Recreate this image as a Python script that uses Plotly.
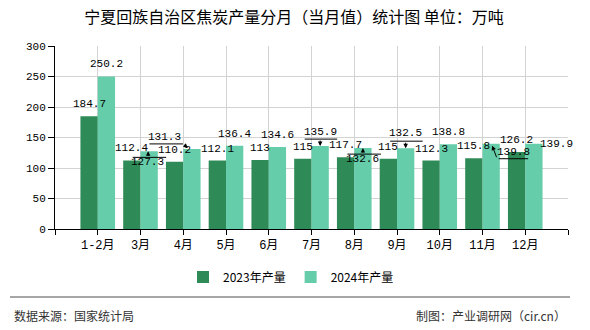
import plotly.graph_objects as go

categories = ["1-2月", "3月", "4月", "5月", "6月", "7月", "8月", "9月", "10月", "11月", "12月"]
y2023 = [184.7, 112.4, 110.2, 112.1, 113, 115, 117.7, 115, 112.3, 115.8, 126.2]
y2024 = [250.2, 127.3, 131.3, 136.4, 134.6, 135.9, 132.6, 132.5, 138.8, 139.8, 139.9]
names = ["2023年产量", "2024年产量"]
colors = ["#2e8b57", "#66cdaa"]

xpos = list(range(1, len(categories) + 1))
BARGAP = 0.19
OFF = (1 - BARGAP) / 4  # half bar width offset from category centre

LABEL_FONT = dict(family="Liberation Mono, Noto Sans CJK SC", size=11, color="#000000")
CJK = "Noto Sans CJK SC"

# plot area in pixels
L, R, T, B = 55, 22, 46, 101
PW, PH = 590 - L - R, 330 - T - B

def px_x(p):
    return (p - L) / PW

def px_y(p):
    return (330 - B - p) / PH

fig = go.Figure()
for name, vals, col in zip(names, [y2023, y2024], colors):
    fig.add_trace(go.Bar(x=xpos, y=vals, name=name, marker=dict(color=col, line=dict(width=0))))

# label placement (pixel offsets of label centre from bar top, screen coords)
special = {
    1: dict(label=(-2, 11), line=((-18, 6), (17, 6)), arrow=((-1, 6), (-1, 0))),
    2: dict(label=(-27, -12), line=((-44, -5), (-9, -5)), arrow=((-9, -5), (-4, -1))),
    5: dict(label=(0, -14), line=((-17, -7), (17, -7)), arrow=((0, -7), (0, 0))),
    6: dict(label=(0, 11), line=((-17, 6), (18, 6)), arrow=((0, 6), (0, 0))),
    7: dict(label=(0, -15), line=((-17, -7), (17, -7)), arrow=((0, -7), (0, 0))),
    9: dict(label=(22, 8), line=((6, 15), (37, 15)), arrow=((6, 15), (1, 2))),
    10: dict(label=(23, 0)),
}

annotations = []

def seg(x, y, p1, p2, head):
    annotations.append(dict(
        x=x, y=y, xref="x", yref="y", text="", showarrow=True,
        xshift=p2[0], yshift=-p2[1], ax=p1[0] - p2[0], ay=p1[1] - p2[1],
        axref="pixel", ayref="pixel",
        arrowhead=2 if head else 0, arrowsize=0.9, arrowwidth=1,
        arrowcolor="#000000", standoff=0, startstandoff=0,
    ))

for si, vals in enumerate([y2023, y2024]):
    sign = -1 if si == 0 else 1
    for i, v in enumerate(vals):
        bx = xpos[i] + sign * OFF
        spec = special.get(i) if si == 1 else None
        dx, dy = (0, -12)
        if spec:
            dx, dy = spec["label"]
        annotations.append(dict(
            x=bx, y=v, xref="x", yref="y", text=f"{v:g}", showarrow=False,
            xshift=dx, yshift=-dy, xanchor="center", yanchor="middle",
            font=LABEL_FONT,
        ))
        if spec and "line" in spec:
            seg(bx, v, spec["line"][0], spec["line"][1], False)
            seg(bx, v, spec["arrow"][0], spec["arrow"][1], True)

# footer
annotations.append(dict(x=px_x(12), y=px_y(315), xref="paper", yref="paper", text="数据来源：国家统计局",
                        showarrow=False, xanchor="left", yanchor="middle",
                        font=dict(family=CJK, size=12, color="#333333")))
annotations.append(dict(x=px_x(568), y=px_y(315), xref="paper", yref="paper", text="制图：产业调研网（cir.cn）",
                        showarrow=False, xanchor="right", yanchor="middle",
                        font=dict(family=CJK, size=12, color="#333333")))

shapes = [dict(type="line", xref="paper", yref="paper", x0=px_x(10), x1=px_x(570),
               y0=px_y(297), y1=px_y(297), line=dict(color="#888888", width=1.5))]

fig.update_layout(
    width=590, height=330,
    margin=dict(l=L, r=R, t=T, b=B, autoexpand=False),
    paper_bgcolor="#ffffff", plot_bgcolor="#ffffff",
    barmode="group", bargap=BARGAP, bargroupgap=0,
    title=dict(text="宁夏回族自治区焦炭产量分月（当月值）统计图 单位：万吨",
               x=294 / 590, xanchor="center", y=1 - 17 / 330, yanchor="middle",
               xref="container", yref="container",
               font=dict(family=CJK, size=16, color="#000000")),
    xaxis=dict(range=[0, 12], tickmode="array", tickvals=list(range(0, 13)),
               ticktext=[""] + categories + [""], tickangle=0,
               showgrid=True, gridcolor="#d3d3d3", gridwidth=1,
               showline=True, linecolor="#000000", linewidth=1,
               ticks="outside", ticklen=5, tickcolor="#000000",
               tickfont=dict(family="Liberation Mono, Noto Sans CJK SC", size=12, color="#000000"),
               zeroline=False, fixedrange=True, automargin=False),
    yaxis=dict(range=[0, 300], dtick=50, tick0=0,
               showgrid=True, gridcolor="#d3d3d3", gridwidth=1,
               showline=True, linecolor="#000000", linewidth=1,
               ticks="outside", ticklen=6, tickcolor="#000000",
               tickfont=dict(family="Liberation Mono", size=11, color="#000000"),
               zeroline=False, fixedrange=True, automargin=False),
    legend=dict(orientation="h", x=px_x(291), xanchor="center",
                y=px_y(277), yanchor="middle",
                font=dict(family=CJK, size=12, color="#000000"),
                itemwidth=30, bgcolor="rgba(0,0,0,0)"),
    annotations=annotations,
    shapes=shapes,
    showlegend=True,
)

fig.write_html("out.html")
